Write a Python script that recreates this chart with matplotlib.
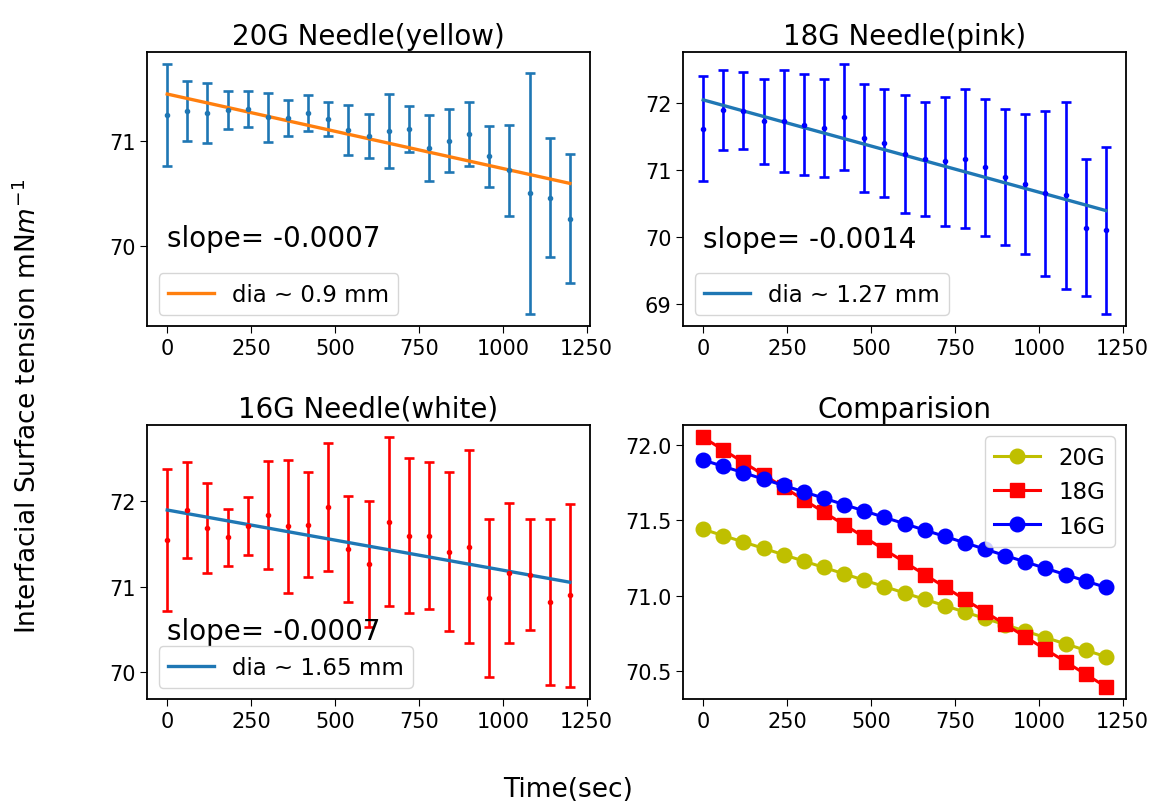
import numpy as np
import matplotlib
matplotlib.use('Agg')
import matplotlib.pyplot as plt
from matplotlib.ticker import MultipleLocator

# time axis (sec)
t = [0, 60, 120, 180, 240, 300, 360, 420, 480, 540, 600, 660, 720, 780, 840, 900, 960, 1020, 1080, 1140, 1200]

# 20G needle (yellow)
g20_mean = [71.24, 71.28, 71.26, 71.29, 71.30, 71.22, 71.21, 71.26, 71.20, 71.10, 71.04,
            71.09, 71.11, 70.93, 71.00, 71.06, 70.85, 70.72, 70.50, 70.46, 70.26]
g20_err = [0.48, 0.28, 0.28, 0.18, 0.17, 0.23, 0.17, 0.17, 0.16, 0.24, 0.21,
           0.35, 0.22, 0.31, 0.30, 0.30, 0.29, 0.43, 1.14, 0.56, 0.61]

# 18G needle (pink)
g18_mean = [71.62, 71.90, 71.89, 71.73, 71.73, 71.68, 71.63, 71.79, 71.48, 71.41, 71.24,
            71.17, 71.13, 71.17, 71.04, 70.90, 70.79, 70.65, 70.62, 70.14, 70.10]
g18_err = [0.78, 0.60, 0.57, 0.64, 0.76, 0.76, 0.73, 0.79, 0.81, 0.81, 0.88,
           0.85, 0.97, 1.04, 1.02, 1.02, 1.05, 1.23, 1.40, 1.02, 1.25]

# 16G needle (white)
g16_mean = [71.55, 71.90, 71.69, 71.58, 71.71, 71.84, 71.71, 71.73, 71.93, 71.44, 71.27,
            71.76, 71.60, 71.60, 71.41, 71.47, 70.87, 71.16, 71.14, 70.82, 70.90]
g16_err = [0.83, 0.56, 0.53, 0.33, 0.34, 0.63, 0.78, 0.61, 0.75, 0.62, 0.74,
           0.99, 0.91, 0.86, 0.93, 1.13, 0.93, 0.82, 0.65, 0.97, 1.07]

# linear fits (intercept, slope)
fit20 = (71.44, -0.000705)
fit18 = (72.05, -0.00138)
fit16 = (71.90, -0.000705)

slope_text = ['slope= -0.0007', 'slope= -0.0014', 'slope= -0.0007']
slope_y = [70.0, 69.85, 70.39]
dia_label = ['dia ~ 0.9 mm', 'dia ~ 1.27 mm', 'dia ~ 1.65 mm']
titles = ['20G Needle(yellow)', '18G Needle(pink)', '16G Needle(white)', 'Comparision']

plt.rcParams['font.family'] = ['DejaVu Sans']
plt.rcParams['xtick.labelsize'] = 15
plt.rcParams['ytick.labelsize'] = 15
plt.rcParams['xtick.major.size'] = 5
plt.rcParams['ytick.major.size'] = 5
plt.rcParams['axes.linewidth'] = 1.3


def draw_needle(ax, mean, err, fit, ecolor, fcolor, title, txt, ty, lab):
    x = np.array(t)
    ax.errorbar(x, mean, yerr=err, fmt='.', color=ecolor, ecolor=ecolor,
                elinewidth=1.9, capsize=3.4, capthick=1.9, markersize=6)
    ax.plot(x, fit[0] + fit[1] * x, color=fcolor, lw=2.4, label=lab)
    ax.text(0, ty, txt, fontsize=20)
    ax.legend(loc='lower left', fontsize=16.5)
    ax.set_title(title, fontsize=20)
    ax.set_xticks([0, 250, 500, 750, 1000, 1250])


fig, axs = plt.subplots(2, 2, figsize=(11.49, 8.03), dpi=100)
plt.subplots_adjust(left=0.128, right=0.98, top=0.934, bottom=0.128, wspace=0.21, hspace=0.36)

draw_needle(axs[0, 0], g20_mean, g20_err, fit20, 'C0', 'C1', titles[0], slope_text[0], slope_y[0], dia_label[0])
axs[0, 0].yaxis.set_major_locator(MultipleLocator(1))
draw_needle(axs[0, 1], g18_mean, g18_err, fit18, 'blue', 'C0', titles[1], slope_text[1], slope_y[1], dia_label[1])
draw_needle(axs[1, 0], g16_mean, g16_err, fit16, 'red', 'C0', titles[2], slope_text[2], slope_y[2], dia_label[2])

ax = axs[1, 1]
x = np.array(t)
ax.plot(x, fit20[0] + fit20[1] * x, 'yo-', ms=10.5, lw=2.2, label='20G')
ax.plot(x, fit18[0] + fit18[1] * x, 'rs-', ms=10.5, lw=2.2, label='18G')
ax.plot(x, fit16[0] + fit16[1] * x, 'bo-', ms=10.5, lw=2.2, label='16G')
ax.legend(loc='upper right', fontsize=16.5)
ax.set_title(titles[3], fontsize=20)
ax.set_xticks([0, 250, 500, 750, 1000, 1250])

fig.supxlabel('Time(sec)', fontsize=19, x=0.494, y=0.0)
fig.supylabel('Interfacial Surface tension mN$m^{-1}$', fontsize=19, x=0.012, y=0.494)

plt.savefig('out.png', dpi=100)
